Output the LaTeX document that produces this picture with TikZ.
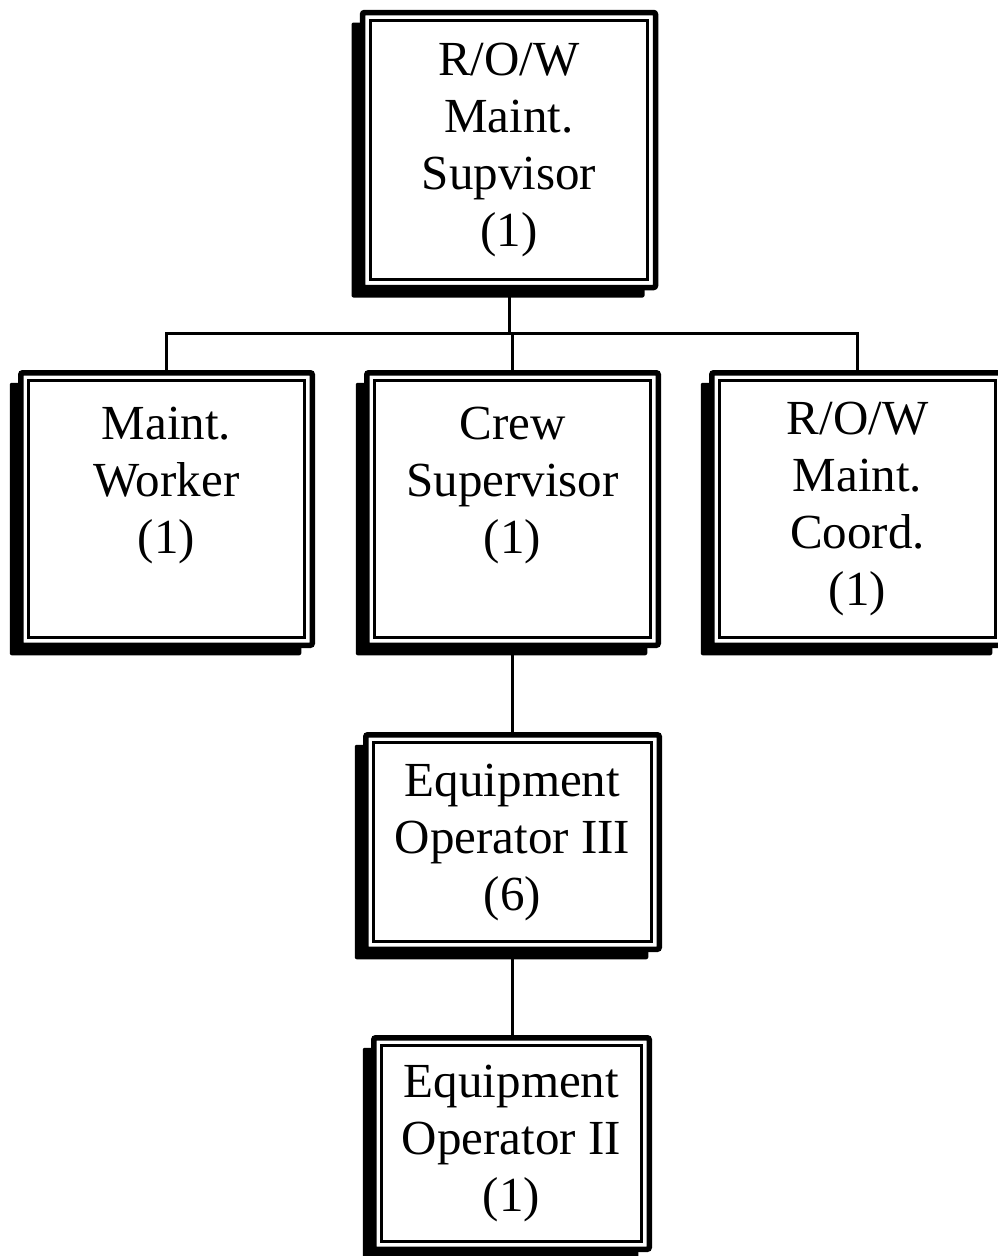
\documentclass[tikz,border=0pt]{standalone}
\usepackage{fontspec}
\setmainfont{Liberation Serif}
\usetikzlibrary{shadows,calc}

\begin{document}
\begin{tikzpicture}[
  x=1pt, y=-1pt,
  orgbox/.style={
    draw, fill=white, line width=5.5pt, rounded corners=2pt,
    outer sep=0pt, inner sep=2pt, align=center,
    font=\fontsize{49}{57}\selectfont,
    general shadow={fill=black, shadow xshift=-11pt, shadow yshift=-10pt},
    path picture={
      \draw[line width=3pt, rounded corners=0pt]
        ($(path picture bounding box.north west)+(8pt,-8pt)$) rectangle
        ($(path picture bounding box.south east)+(-8pt,8pt)$);
    }
  },
  link/.style={draw, line width=3pt}
]
\useasboundingbox (0,0) rectangle (997,1256);

% connectors first, boxes are drawn over them
\coordinate (bus) at (509,333);
\coordinate (topfoot) at (509,288);
\draw[link] (topfoot) -- (bus);
\draw[link] (166.5,372) |- (bus) -| (857.5,372);
\draw[link] (512.5,333) -- (512.5,372);
\draw[link] (512.5,645) -- (512.5,735);
\draw[link] (512,949) -- (512,1038);

% boxes
\node[orgbox, minimum width=293pt, minimum height=275pt] (sup) at (509,150)
  {R/O/W\\Maint.\\Supvisor\\(1)};

\node[orgbox, minimum width=291.5pt, minimum height=272.5pt] (worker) at (166.5,509)
  {Maint.\\Worker\\(1)\\\mbox{}};
\node[orgbox, minimum width=291.5pt, minimum height=272.5pt] (crew) at (512.5,509)
  {Crew\\Supervisor\\(1)\\\mbox{}};
\node[orgbox, minimum width=291.5pt, minimum height=272.5pt] (coord) at (857.5,509)
  {R/O/W\\Maint.\\Coord.\\(1)};

\node[orgbox, minimum width=293.5pt, minimum height=214.5pt] (eqthree) at (512.5,842)
  {Equipment\\Operator III\\(6)};
\node[orgbox, minimum width=275.5pt, minimum height=211.5pt] (eqtwo) at (511.5,1143.5)
  {Equipment\\Operator II\\(1)};

\end{tikzpicture}
\end{document}
